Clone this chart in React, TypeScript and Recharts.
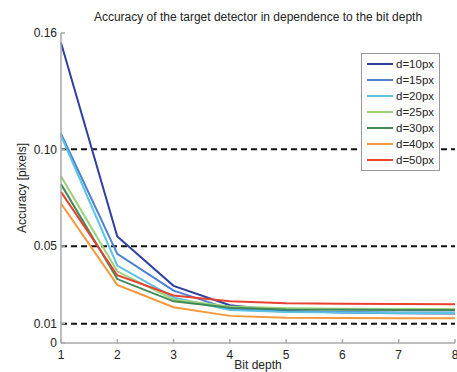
import { Legend, Line, LineChart, ReferenceLine, XAxis, YAxis } from "recharts"

const bitDepth = [1, 2, 3, 4, 5, 6, 7, 8]

const d10 = [0.155, 0.055, 0.0295, 0.0195, 0.0165, 0.0158, 0.0154, 0.0152]
const d15 = [0.108, 0.046, 0.027, 0.0175, 0.0163, 0.016, 0.0158, 0.0157]
const d20 = [0.107, 0.04, 0.0235, 0.017, 0.016, 0.0157, 0.0155, 0.0155]
const d25 = [0.086, 0.037, 0.0225, 0.0188, 0.018, 0.0177, 0.0176, 0.0175]
const d30 = [0.082, 0.033, 0.0215, 0.0182, 0.0173, 0.0171, 0.017, 0.017]
const d40 = [0.072, 0.03, 0.0185, 0.014, 0.013, 0.0129, 0.0128, 0.0128]
const d50 = [0.078, 0.035, 0.0245, 0.0215, 0.0205, 0.0202, 0.0201, 0.02]

const yTicks = [0, 0.01, 0.05, 0.1, 0.16]
const yTickLabels = ["0", "0.01", "0.05", "0.10", "0.16"]
const dashedLevels = [0.01, 0.05, 0.1]

const series = [
  { key: "d10", name: "d=10px", values: d10, color: "#2f3f9f" },
  { key: "d15", name: "d=15px", values: d15, color: "#4d7fd2" },
  { key: "d20", name: "d=20px", values: d20, color: "#5cc3e4" },
  { key: "d25", name: "d=25px", values: d25, color: "#9dd27a" },
  { key: "d30", name: "d=30px", values: d30, color: "#3f8a58" },
  { key: "d40", name: "d=40px", values: d40, color: "#f5983a" },
  { key: "d50", name: "d=50px", values: d50, color: "#e8412f" },
]

const data = bitDepth.map((bit, i) => {
  const row: Record<string, number> = { bit }
  series.forEach((s) => {
    row[s.key] = s.values[i]
  })
  return row
})

const font = "'Liberation Sans', Arial, sans-serif"
const boxColor = "#a9a9a9"

function LegendBox({ payload }: any) {
  return (
    <div
      style={{
        border: "1px solid #999",
        background: "#fff",
        padding: "2px 0 2px 5px",
        fontFamily: font,
        fontSize: 11.5,
        color: "#222",
      }}
    >
      {(payload || []).map((p: any) => (
        <div key={p.value} style={{ display: "flex", alignItems: "center", height: 16 }}>
          <span style={{ display: "inline-block", width: 26, height: 2, background: p.color, marginRight: 3 }} />
          <span>{p.value}</span>
        </div>
      ))}
    </div>
  )
}

export default function App() {
  return (
    <div style={{ position: "absolute", left: 0, top: 0, width: 457, height: 372, background: "#fff" }}>
      <div
        style={{
          position: "absolute",
          left: 61,
          top: 10,
          width: 394,
          textAlign: "center",
          fontFamily: font,
          fontSize: 12,
          color: "#222",
          whiteSpace: "nowrap",
        }}
      >
        Accuracy of the target detector in dependence to the bit depth
      </div>
      <div
        style={{
          position: "absolute",
          left: 22,
          top: 188,
          transform: "translate(-50%, -50%) rotate(-90deg)",
          fontFamily: font,
          fontSize: 12,
          color: "#222",
          whiteSpace: "nowrap",
        }}
      >
        Accuracy [pixels]
      </div>
      <LineChart width={457} height={372} data={data} margin={{ top: 33, right: 2, bottom: 0, left: 0 }}>
        <XAxis
          dataKey="bit"
          type="number"
          domain={[1, 8]}
          ticks={bitDepth}
          interval={0}
          height={29}
          tickSize={-4}
          tickMargin={11}
          stroke={boxColor}
          strokeWidth={1.5}
          tick={{ fill: "#222", fontSize: 12, fontFamily: font }}
          label={{ value: "Bit depth", position: "insideBottom", offset: 3, fill: "#222", fontSize: 12, fontFamily: font }}
        />
        <XAxis
          xAxisId="top"
          orientation="top"
          dataKey="bit"
          type="number"
          domain={[1, 8]}
          ticks={bitDepth}
          interval={0}
          height={0}
          tickSize={-4}
          tickFormatter={() => ""}
          stroke={boxColor}
          strokeWidth={1.5}
        />
        <YAxis
          type="number"
          domain={[0, 0.16]}
          ticks={yTicks}
          interval={0}
          width={61}
          tickSize={-4}
          tickMargin={8}
          stroke={boxColor}
          strokeWidth={1.5}
          tickFormatter={(v: number) => yTickLabels[yTicks.indexOf(v)] ?? String(v)}
          tick={{ fill: "#222", fontSize: 12, fontFamily: font }}
        />
        <YAxis
          yAxisId="right"
          orientation="right"
          type="number"
          domain={[0, 0.16]}
          ticks={yTicks}
          interval={0}
          width={0}
          tickSize={-4}
          tickFormatter={() => ""}
          stroke={boxColor}
          strokeWidth={1.5}
        />
        {dashedLevels.map((y) => (
          <ReferenceLine key={y} y={y} stroke="#111" strokeWidth={2} strokeDasharray="6 4" />
        ))}
        {series.map((s) => (
          <Line
            key={s.key}
            dataKey={s.key}
            name={s.name}
            stroke={s.color}
            strokeWidth={2}
            dot={false}
            type="linear"
            isAnimationActive={false}
          />
        ))}
        <Legend
          layout="vertical"
          align="center"
          verticalAlign="middle"
          wrapperStyle={{ top: 53, left: 361, width: 79 }}
          content={<LegendBox />}
        />
      </LineChart>
    </div>
  )
}
